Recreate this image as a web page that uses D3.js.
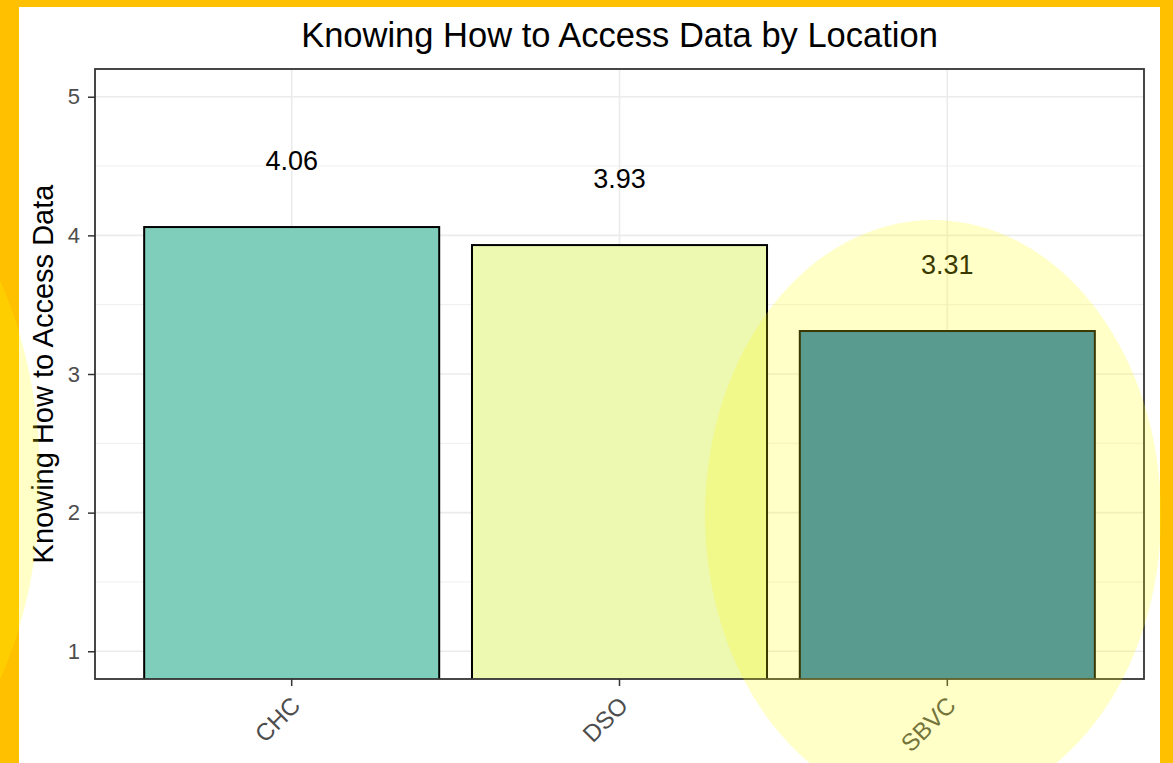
<!DOCTYPE html>
<html>
<head>
<meta charset="UTF-8">
<title>Knowing How to Access Data by Location</title>
<script src="https://cdn.jsdelivr.net/npm/d3@7"></script>
<style>
  body { margin: 0; background: #FFC000; }
  svg { display: block; font-family: "Liberation Sans", Arial, sans-serif; }
  .grid line { stroke: #EBEBEB; }
  .axis text { fill: #4D4D4D; font-size: 22px; }
  .axis line { stroke: #333333; stroke-width: 1.5; }
</style>
</head>
<body>
<svg width="1173" height="763"></svg>
<script>
  // data
  var categories = ["CHC", "DSO", "SBVC"];
  var values = [4.06, 3.93, 3.31];
  var barColors = ["#7FCDBB", "#EDF8B1", "#2C7FB8"];
  var yTicks = [1, 2, 3, 4, 5];
  var yMinor = [1.5, 2.5, 3.5, 4.5];

  var data = categories.map(function(c, i) {
    return { cat: c, value: values[i], color: barColors[i] };
  });

  var svg = d3.select("svg");
  var W = 1173, H = 763;

  // orange frame + white page
  svg.append("rect").attr("width", W).attr("height", H).attr("fill", "#FFC000");
  svg.append("rect").attr("x", 19).attr("y", 7).attr("width", 1160 - 19).attr("height", H - 7).attr("fill", "#FFFFFF");

  var panel = { left: 95, right: 1144, top: 69, bottom: 679 };

  var x = d3.scaleBand()
    .domain(categories)
    .range([panel.left, panel.right])
    .paddingInner(0.1)
    .paddingOuter(0.15);

  var y = d3.scaleLinear()
    .domain([0.8, 5.2])
    .range([panel.bottom, panel.top]);

  var g = svg.append("g");

  // grid
  var grid = g.append("g").attr("class", "grid");
  grid.selectAll(".minor").data(yMinor).enter().append("line")
    .attr("x1", panel.left).attr("x2", panel.right)
    .attr("y1", function(d) { return y(d) }).attr("y2", function(d) { return y(d) })
    .attr("stroke-width", 0.8);
  grid.selectAll(".major").data(yTicks).enter().append("line")
    .attr("x1", panel.left).attr("x2", panel.right)
    .attr("y1", function(d) { return y(d) }).attr("y2", function(d) { return y(d) })
    .attr("stroke-width", 1.6);
  grid.selectAll(".vmajor").data(categories).enter().append("line")
    .attr("y1", panel.top).attr("y2", panel.bottom)
    .attr("x1", function(d) { return x(d) + x.bandwidth() / 2 })
    .attr("x2", function(d) { return x(d) + x.bandwidth() / 2 })
    .attr("stroke-width", 1.6);

  // bars (clipped to panel)
  svg.append("clipPath").attr("id", "clip")
    .append("rect")
    .attr("x", panel.left).attr("y", panel.top)
    .attr("width", panel.right - panel.left).attr("height", panel.bottom - panel.top);

  g.append("g").attr("clip-path", "url(#clip)")
    .selectAll("rect")
    .data(data)
    .enter().append("rect")
    .attr("x", function(d) { return x(d.cat) })
    .attr("width", x.bandwidth())
    .attr("y", function(d) { return y(d.value) })
    .attr("height", function(d) { return panel.bottom + 5 - y(d.value) })
    .attr("fill", function(d) { return d.color })
    .attr("stroke", "#000000")
    .attr("stroke-width", 2);

  // value labels
  g.selectAll(".val")
    .data(data)
    .enter().append("text")
    .attr("class", "val")
    .attr("x", function(d) { return x(d.cat) + x.bandwidth() / 2 })
    .attr("y", function(d) { return y(d.value + 0.48) })
    .attr("dy", "0.35em")
    .attr("text-anchor", "middle")
    .attr("font-size", 27)
    .attr("fill", "#000000")
    .text(function(d) { return d.value.toFixed(2) });

  // panel border
  g.append("rect")
    .attr("x", panel.left).attr("y", panel.top)
    .attr("width", panel.right - panel.left).attr("height", panel.bottom - panel.top)
    .attr("fill", "none")
    .attr("stroke", "#333333")
    .attr("stroke-width", 1.8);

  // axes
  var yAxis = g.append("g")
    .attr("class", "axis")
    .attr("transform", "translate(" + panel.left + ",0)")
    .call(d3.axisLeft(y).tickValues(yTicks).tickSize(7).tickPadding(8).tickFormat(d3.format("d")));
  yAxis.select(".domain").remove();

  var xAxis = g.append("g")
    .attr("class", "axis")
    .attr("transform", "translate(0," + panel.bottom + ")")
    .call(d3.axisBottom(x).tickSize(7).tickPadding(4));
  xAxis.select(".domain").remove();
  xAxis.selectAll("text")
    .attr("x", 0).attr("y", 0).attr("dy", null)
    .attr("text-anchor", "end")
    .style("font-size", "24px")
    .attr("transform", "translate(10,28) rotate(-45)");

  // titles
  svg.append("text")
    .attr("x", (panel.left + panel.right) / 2)
    .attr("y", 47)
    .attr("text-anchor", "middle")
    .attr("font-size", 34.5)
    .attr("fill", "#000000")
    .text("Knowing How to Access Data by Location");

  svg.append("text")
    .attr("transform", "translate(53," + (panel.top + panel.bottom) / 2 + ") rotate(-90)")
    .attr("text-anchor", "middle")
    .attr("font-size", 29)
    .attr("fill", "#000000")
    .text("Knowing How to Access Data");

  // yellow highlight ellipses on top
  svg.append("ellipse")
    .attr("cx", 933).attr("cy", 515).attr("rx", 228).attr("ry", 295)
    .attr("fill", "#FFFF00").attr("fill-opacity", 0.22);
  svg.append("ellipse")
    .attr("cx", -170).attr("cy", 480).attr("rx", 210).attr("ry", 340)
    .attr("fill", "#FFFF00").attr("fill-opacity", 0.22);
</script>
</body>
</html>
